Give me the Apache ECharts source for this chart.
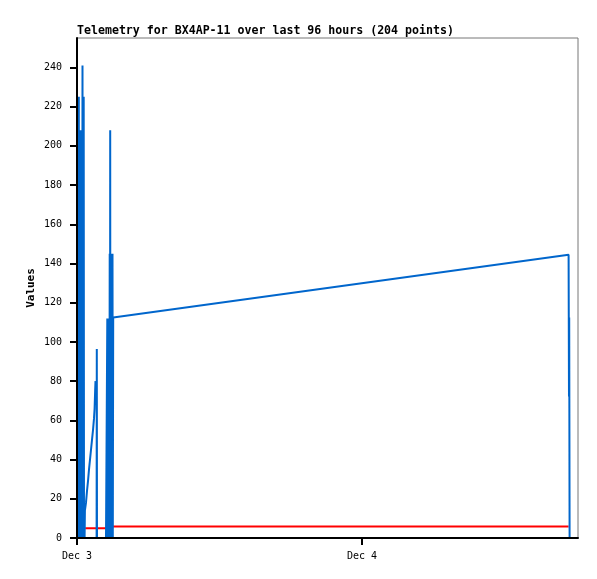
<!DOCTYPE html>
<html><head><meta charset="utf-8">
<script src="https://cdn.jsdelivr.net/npm/echarts@6/dist/echarts.min.js"></script>
<style>html,body{margin:0;padding:0;background:#fff}#c{width:597px;height:579px}</style>
</head><body><div id="c"></div>
<script>
const titleText = 'Telemetry for BX4AP-11 over last 96 hours (204 points)';
const yAxisName = 'Values';

const times = [
 '2023-12-03T00:00:00Z','2023-12-03T00:01:31Z','2023-12-03T00:03:02Z','2023-12-03T00:04:33Z',
 '2023-12-03T00:06:04Z','2023-12-03T00:07:35Z','2023-12-03T00:09:06Z','2023-12-03T00:10:37Z',
 '2023-12-03T00:12:08Z','2023-12-03T00:13:39Z','2023-12-03T00:15:09Z','2023-12-03T00:16:40Z',
 '2023-12-03T00:18:11Z','2023-12-03T00:19:42Z','2023-12-03T00:21:13Z','2023-12-03T00:22:44Z',
 '2023-12-03T00:24:15Z','2023-12-03T00:25:46Z','2023-12-03T00:27:47Z','2023-12-03T00:29:18Z',
 '2023-12-03T00:30:49Z','2023-12-03T00:32:20Z','2023-12-03T00:33:51Z','2023-12-03T00:35:22Z',
 '2023-12-03T00:36:53Z','2023-12-03T00:38:24Z','2023-12-03T00:39:55Z',
 '2023-12-03T00:41:26Z','2023-12-03T00:45:28Z','2023-12-03T00:50:32Z','2023-12-03T00:55:35Z',
 '2023-12-03T01:00:38Z','2023-12-03T01:05:41Z','2023-12-03T01:10:44Z','2023-12-03T01:15:47Z',
 '2023-12-03T01:20:51Z','2023-12-03T01:25:54Z','2023-12-03T01:28:56Z','2023-12-03T01:31:58Z',
 '2023-12-03T01:33:28Z','2023-12-03T01:37:31Z','2023-12-03T01:39:02Z','2023-12-03T01:40:02Z',
 '2023-12-03T01:41:03Z','2023-12-03T01:51:10Z','2023-12-03T02:01:16Z','2023-12-03T02:11:22Z',
 '2023-12-03T02:14:54Z','2023-12-03T02:17:56Z','2023-12-03T02:26:32Z','2023-12-03T02:31:35Z',
 '2023-12-03T02:33:06Z','2023-12-03T02:34:37Z','2023-12-03T02:36:08Z','2023-12-03T02:37:39Z',
 '2023-12-03T02:39:10Z','2023-12-03T02:40:41Z','2023-12-03T02:42:12Z','2023-12-03T02:43:43Z',
 '2023-12-03T02:45:14Z','2023-12-03T02:46:45Z','2023-12-03T02:47:45Z','2023-12-03T02:48:46Z',
 '2023-12-03T02:50:17Z','2023-12-03T02:51:48Z','2023-12-03T02:53:19Z','2023-12-03T02:54:50Z',
 '2023-12-03T02:56:21Z','2023-12-03T02:57:52Z','2023-12-03T02:59:23Z','2023-12-03T03:00:54Z',
 '2023-12-03T03:02:55Z',
 '2023-12-04T17:23:53Z','2023-12-04T17:25:54Z','2023-12-04T17:26:55Z','2023-12-04T17:28:56Z'
];

const blueValues = [
 225,2,225,0,225,3,225,0,208,2,208,0,208,4,208,0,208,1,241,0,225,3,225,0,14,0,14,
 14,18,24,29,35,40,45,50,55,61,66,76,80,null,0,96.4,0,0,0,0,0,0,0,0,
 112,0,112,2,112,0,112,1,145,0,208,0,145,3,145,0,145,2,145,0,112.4,
 144.4,72.2,112.4,0
];

const redValues = [
 null,null,null,null,null,null,null,null,null,null,null,null,null,null,null,null,null,null,null,null,null,null,null,null,null,null,null,
 5.0,5.0,5.0,5.0,5.0,5.0,5.0,5.0,5.0,5.0,5.0,5.0,5.0,5.0,5.0,5.0,5.0,5.0,5.0,5.0,4.2,5.0,5.0,5.9,
 5.9,5.9,5.9,5.9,5.9,5.9,5.9,5.9,5.9,5.9,5.9,5.9,5.9,5.9,5.9,5.9,5.9,5.9,5.9,5.9,5.9,
 5.9,null,null,null
];

const yTicks = [0,20,40,60,80,100,120,140,160,180,200,220,240];
const yRange = [0,255];
const xTickDates = ['2023-12-03T00:00:00Z','2023-12-04T00:00:00Z'];
const xTickLabels = ['Dec 3','Dec 4'];
const xRange = ['2023-12-03T00:00:00Z','2023-12-04T18:11:23Z'];

const xTickValues = xTickDates.map(s => Date.parse(s));
const blueData = times.map((t, i) => [Date.parse(t), blueValues[i]]);
const redData = times.map((t, i) => [Date.parse(t), redValues[i]]);

const mono = 'DejaVu Sans Mono';
const chart = echarts.init(document.getElementById('c'), null, {renderer: 'canvas'});
chart.setOption({
  animation: false,
  backgroundColor: '#ffffff',
  title: {
    text: titleText, left: 77, top: 25, padding: 0,
    textStyle: {fontFamily: mono, fontSize: 11.6, fontWeight: 'bold', color: '#000'}
  },
  grid: {left: 77, right: 19, top: 38, bottom: 41, show: true, borderColor: '#777', borderWidth: 1, containLabel: false},
  xAxis: {
    type: 'value', z: 10,
    min: Date.parse(xRange[0]), max: Date.parse(xRange[1]),
    splitLine: {show: false},
    axisLine: {show: true, onZero: false, lineStyle: {color: '#000', width: 2}},
    axisTick: {show: true, customValues: xTickValues, length: 7, lineStyle: {color: '#000', width: 2}},
    axisLabel: {
      customValues: xTickValues, margin: 13, color: '#000', fontFamily: mono, fontSize: 10,
      formatter: v => { const i = xTickValues.indexOf(v); return i >= 0 ? xTickLabels[i] : ''; }
    }
  },
  yAxis: {
    type: 'value', z: 10,
    min: yRange[0], max: yRange[1],
    name: yAxisName, nameLocation: 'middle', nameRotate: 90, nameGap: 40, nameMoveOverlap: false,
    nameTextStyle: {fontFamily: mono, fontSize: 11, fontWeight: 'bold', color: '#000'},
    splitLine: {show: false},
    axisLine: {show: true, lineStyle: {color: '#000', width: 2}},
    axisTick: {show: true, customValues: yTicks, length: 7, lineStyle: {color: '#000', width: 2}},
    axisLabel: {customValues: yTicks, margin: 15, color: '#000', fontFamily: mono, fontSize: 10}
  },
  series: [
    {type: 'line', name: 'red', data: redData, showSymbol: false, connectNulls: false,
     lineStyle: {color: '#ff0000', width: 2}, itemStyle: {color: '#ff0000'}},
    {type: 'line', name: 'blue', data: blueData, showSymbol: false, connectNulls: false,
     lineStyle: {color: '#0066cc', width: 2}, itemStyle: {color: '#0066cc'}}
  ]
});
</script>
</body></html>
